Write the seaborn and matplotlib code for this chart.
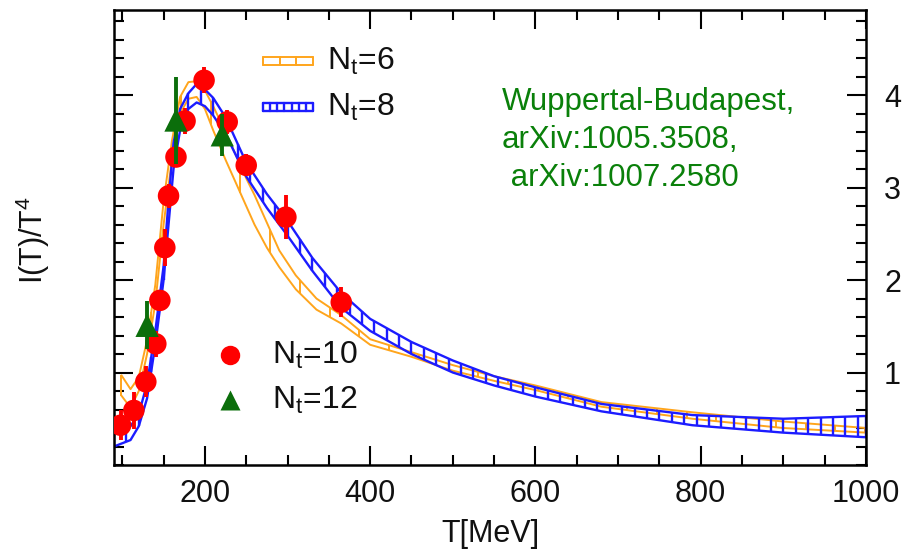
import numpy as np
import pandas as pd
import matplotlib
matplotlib.use("Agg")
import matplotlib.pyplot as plt
from matplotlib.ticker import MultipleLocator
import seaborn as sns

# ---------------- data ----------------
# N_t = 6 band (orange): temperature nodes, lower and upper edges
T6 = [99, 110, 120, 130, 140, 150, 160, 170, 180, 190, 200, 210, 225, 240, 250,
      260, 275, 290, 310, 335, 365, 400, 450, 500, 550, 600, 680, 790, 900, 1000]
lo6 = [0.75, 0.62, 0.80, 1.20, 1.75, 2.60, 3.30, 3.80, 3.96, 3.98, 3.85, 3.62, 3.30,
       3.00, 2.80, 2.60, 2.35, 2.14, 1.90, 1.68, 1.53, 1.30, 1.17, 1.02, 0.91, 0.81,
       0.63, 0.50, 0.40, 0.35]
hi6 = [0.97, 0.82, 0.95, 1.35, 1.95, 2.85, 3.50, 3.98, 4.14, 4.15, 4.05, 3.88, 3.60,
       3.30, 3.10, 2.92, 2.62, 2.32, 2.05, 1.80, 1.62, 1.36, 1.22, 1.08, 0.96, 0.86,
       0.68, 0.57, 0.47, 0.40]

# N_t = 8 band (blue)
T8 = [90, 110, 120, 130, 140, 150, 156, 162, 170, 180, 190, 200, 210, 225, 250, 275,
      300, 330, 365, 400, 450, 500, 550, 600, 680, 790, 900, 1000]
lo8 = [0.20, 0.27, 0.42, 0.72, 1.30, 2.00, 2.60, 3.20, 3.62, 3.85, 3.92, 3.88, 3.78,
       3.58, 3.12, 2.78, 2.48, 2.10, 1.70, 1.45, 1.20, 1.00, 0.86, 0.74, 0.58, 0.43,
       0.35, 0.30]
hi8 = [0.33, 0.42, 0.55, 0.88, 1.45, 2.15, 2.86, 3.48, 3.85, 4.02, 4.12, 4.06, 3.97,
       3.76, 3.27, 2.93, 2.64, 2.24, 1.86, 1.58, 1.33, 1.13, 0.96, 0.84, 0.66, 0.54,
       0.50, 0.53]

# N_t = 10 points (red)
T10 = [98, 114, 128.5, 140.6, 145.5, 151.5, 156, 165, 176, 199, 227, 250, 298, 365]
I10 = [0.43, 0.59, 0.90, 1.31, 1.78, 2.35, 2.91, 3.33, 3.72, 4.16, 3.71, 3.24, 2.68, 1.76]
E10 = [0.16, 0.20, 0.17, 0.14, 0.10, 0.20, 0.13, 0.11, 0.14, 0.14, 0.13, 0.12, 0.24, 0.16]

# N_t = 12 points (green)
T12 = [130, 165, 221]
I12 = [1.51, 3.73, 3.57]
E12 = [0.26, 0.47, 0.23]

x_ticks = [200, 400, 600, 800, 1000]
y_ticks = [1, 2, 3, 4]
legend_labels = [r"N$_\mathregular{t}$=6", r"N$_\mathregular{t}$=8",
                 r"N$_\mathregular{t}$=10", r"N$_\mathregular{t}$=12"]
note = "Wuppertal-Budapest,\narXiv:1005.3508,\n arXiv:1007.2580"

# ---------------- style ----------------
sns.set_theme(style="ticks")
plt.rcParams["font.family"] = ["Liberation Sans", "DejaVu Sans"]
plt.rcParams["mathtext.fontset"] = "custom"
plt.rcParams["mathtext.rm"] = "Liberation Sans"

ORANGE = "#ffa51c"
BLUE = "#1c1cff"
RED = "#ff0000"
GREEN = "#0b6e0b"
TXT_GREEN = "#0a800a"
FS = 22
FS_LEG = 23

fig = plt.figure(figsize=(9.06, 5.56), dpi=100)
ax = fig.add_axes([114 / 906, 1 - 465 / 556, 752 / 906, 455 / 556])


def draw_band(T, lo, hi, color, lw, step):
    df = pd.DataFrame({"T": T, "lo": lo, "hi": hi})
    sns.lineplot(data=df, x="T", y="lo", color=color, lw=lw, ax=ax,
                 estimator=None, sort=False)
    sns.lineplot(data=df, x="T", y="hi", color=color, lw=lw, ax=ax,
                 estimator=None, sort=False)
    xs = np.append(np.arange(T[0], T[-1], step), T[-1])
    ax.vlines(xs, np.interp(xs, T, lo), np.interp(xs, T, hi), color=color, lw=lw)


draw_band(T6, lo6, hi6, ORANGE, 1.4, 36)
draw_band(T8, lo8, hi8, BLUE, 1.7, 15)

ax.errorbar(T10, I10, yerr=E10, fmt="none", ecolor=RED, elinewidth=2.8, capsize=0,
            zorder=4)
sns.scatterplot(x=T10, y=I10, color=RED, marker="o", s=240, edgecolor="none",
                ax=ax, zorder=5)
ax.errorbar(T12, I12, yerr=E12, fmt="none", ecolor=GREEN, elinewidth=2.8, capsize=0,
            zorder=6)
sns.scatterplot(x=T12, y=I12, color=GREEN, marker="^", s=280, edgecolor="none",
                ax=ax, zorder=7)

# ---------------- axes ----------------
ax.set_xlim(90, 1000)
ax.set_ylim(0, 4.92)
ax.set_xticks(x_ticks)
ax.set_yticks(y_ticks)
ax.xaxis.set_minor_locator(MultipleLocator(50))
ax.yaxis.set_minor_locator(MultipleLocator(0.2))
ax.tick_params(which="both", direction="in", top=True, right=True, left=True,
               bottom=True, labelleft=False, labelright=True, color="black",
               width=1.5, labelsize=FS, labelcolor="#111111")
ax.tick_params(which="major", length=14)
ax.tick_params(which="minor", length=7)
ax.tick_params(axis="x", pad=10)
ax.tick_params(axis="y", pad=13)
for s in ax.spines.values():
    s.set_linewidth(1.8)
    s.set_color("black")

ax.set_xlabel("T[MeV]", fontsize=FS, color="#111111")
ax.set_ylabel(r"I(T)/T$^\mathregular{4}$", fontsize=FS, color="#111111")
ax.xaxis.set_label_coords(0.5, -0.118)
ax.yaxis.set_label_coords(-0.083, 0.494)

# ---------------- legends (drawn in axes fraction) ----------------
def band_key(y, color, lw, n):
    x0, x1 = 0.198, 0.265
    dy = 0.009
    ax.plot([x0, x1], [y + dy, y + dy], color=color, lw=lw, transform=ax.transAxes,
            clip_on=False)
    ax.plot([x0, x1], [y - dy, y - dy], color=color, lw=lw, transform=ax.transAxes,
            clip_on=False)
    for xx in np.linspace(x0, x1, n):
        ax.plot([xx, xx], [y - dy, y + dy], color=color, lw=lw,
                transform=ax.transAxes, clip_on=False)


band_key(0.888, ORANGE, 1.4, 4)
band_key(0.787, BLUE, 1.7, 8)
ax.text(0.283, 0.888, legend_labels[0], fontsize=FS_LEG, va="center", ha="left",
        transform=ax.transAxes, color="#111111")
ax.text(0.283, 0.787, legend_labels[1], fontsize=FS_LEG, va="center", ha="left",
        transform=ax.transAxes, color="#111111")
ax.plot([0.154], [0.242], "o", color=RED, ms=14, mec="none", transform=ax.transAxes)
ax.plot([0.154], [0.143], "^", color=GREEN, ms=15, mec="none", transform=ax.transAxes)
ax.text(0.210, 0.242, legend_labels[2], fontsize=FS_LEG, va="center", ha="left",
        transform=ax.transAxes, color="#111111")
ax.text(0.210, 0.143, legend_labels[3], fontsize=FS_LEG, va="center", ha="left",
        transform=ax.transAxes, color="#111111")

ax.text(0.516, 0.714, note, fontsize=22.5, color=TXT_GREEN, ha="left", va="center",
        linespacing=1.36, transform=ax.transAxes)

fig.savefig("out.png", dpi=100)
